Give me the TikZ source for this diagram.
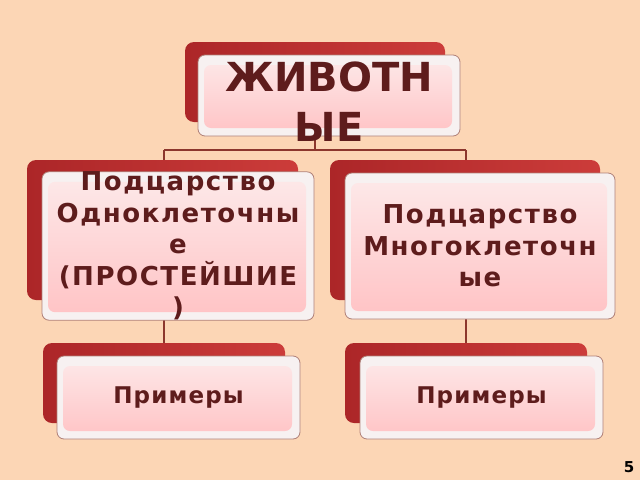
\documentclass[tikz,border=0pt]{standalone}
\usepackage{fontspec}
\setmainfont{DejaVu Sans}
\usetikzlibrary{backgrounds,positioning,calc}

\definecolor{fonpeach}{RGB}{252,214,181}
\definecolor{backred}{RGB}{204,60,58}
\definecolor{backreddark}{RGB}{172,38,40}
\definecolor{textmaroon}{RGB}{94,28,28}
\definecolor{paneltop}{RGB}{253,234,234}
\definecolor{panelbot}{RGB}{255,194,196}
\definecolor{framewhite}{RGB}{247,241,241}
\definecolor{frameline}{RGB}{176,128,120}
\definecolor{linkbrown}{RGB}{140,55,45}

\tikzset{
  backbox/.style={rectangle, rounded corners=9pt, left color=backreddark,
    right color=backred, inner sep=0pt},
  frontbox/.style={rectangle, rounded corners=7pt, fill=framewhite,
    draw=frameline, line width=0.8pt, inner sep=0pt, align=center,
    text=textmaroon,
    path picture={\shade[top color=paneltop, bottom color=panelbot]
      ([shift={(6,10)}]path picture bounding box.north west) rectangle
      ([shift={(-8,-8)}]path picture bounding box.south east);}},
  boxtext/.style={align=center, text=textmaroon, inner sep=0pt},
  midfont/.style={font=\bfseries\fontsize{26}{31.5}\selectfont\addfontfeature{LetterSpace=6}},
  lowfont/.style={font=\bfseries\fontsize{23}{27}\selectfont\addfontfeature{LetterSpace=5}},
  link/.style={draw=linkbrown, line width=1.3pt},
}

\begin{document}
\begin{tikzpicture}[x=1pt, y=-1pt]
      \useasboundingbox (0,0) rectangle (640,480);

      % red backs
      \node[backbox, minimum width=260pt, minimum height=80pt]  (zhivback)  at (315,82)    {};
      \node[backbox, minimum width=271pt, minimum height=140pt] (odnoback)  at (162.5,230) {};
      \node[backbox, minimum width=270pt, minimum height=140pt] (mnogoback) at (465,230)   {};
      \node[backbox, minimum width=242pt, minimum height=80pt]  (prim1back) at (164,383)   {};
      \node[backbox, minimum width=242pt, minimum height=80pt]  (prim2back) at (466,383)   {};

      % front boxes
      \node[frontbox, minimum width=262pt, minimum height=81pt] (zhiv) at (329,95.5) {};
      \node[boxtext, font=\bfseries\fontsize{40}{50}\selectfont]
            (zhivtext) at ([yshift=-6pt]zhiv.center) {ЖИВОТН\\ЫЕ};
      \node[frontbox, midfont, minimum width=272pt, minimum height=146pt] (odno) at (178,246)
            {Подцарство\\Одноклеточны\\е\\(ПРОСТЕЙШИЕ\\)};
      \node[frontbox, midfont, minimum width=270pt, minimum height=146pt] (mnogo) at (480,246)
            {Подцарство\\Многоклеточн\\ые};
      \node[frontbox, lowfont, minimum width=243pt, minimum height=83pt] (prim1) at (178.5,397.5)
            {Примеры};
      \node[frontbox, lowfont, minimum width=243pt, minimum height=83pt] (prim2) at (481.5,397.5)
            {Примеры};

      \node[font=\bfseries\fontsize{15}{15}\selectfont] (pagenum) at (629,467) {5};

      \coordinate (jl) at (164,150);
      \coordinate (jr) at (466,150);

      \begin{scope}[on background layer]
        \fill[fonpeach] (0,0) rectangle (640,480);
        \draw[link] (zhivback.south) -- (zhivback.south |- jl);
        \draw[link] (jl) -- (jr);
        \draw[link] (jl) -- (jl |- prim1back.north);
        \draw[link] (jr) -- (jr |- prim2back.north);
      \end{scope}

\end{tikzpicture}
\end{document}
